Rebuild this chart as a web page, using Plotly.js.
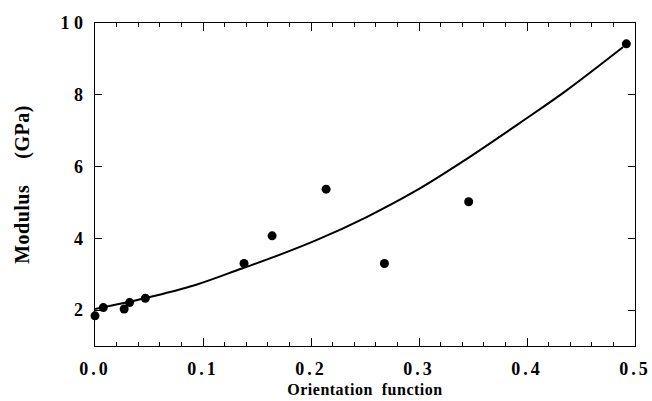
<!DOCTYPE html>
<html>
<head>
<meta charset="utf-8">
<script src="https://cdn.plot.ly/plotly-3.0.1.min.js"></script>
<style>
html,body{margin:0;padding:0;background:#fff;}
#chart{width:652px;height:401px;}
.xtick text {letter-spacing: 3px;}
.ytitle {letter-spacing: 0.5px;}
.xtitle {letter-spacing: 0.5px;}
</style>
</head>
<body>
<div id="chart"></div>
<script>
// Measured points
var orientation = [0.0, 0.0077, 0.027, 0.032, 0.0466, 0.138, 0.164, 0.214, 0.268, 0.346, 0.492];
var modulus = [1.84, 2.07, 2.03, 2.21, 2.33, 3.30, 4.07, 5.37, 3.30, 5.02, 9.42];

// Fitted curve
var fitX = [0.0, 0.046, 0.093, 0.136, 0.162, 0.205, 0.252, 0.298, 0.341, 0.397, 0.437, 0.489];
var fitY = [2.03, 2.33, 2.70, 3.16, 3.44, 3.95, 4.60, 5.34, 6.15, 7.29, 8.13, 9.33];

var xTickVals = [0, 0.1, 0.2, 0.3, 0.4, 0.5];
var xTickText = ["0.0", "0.1", "0.2", "0.3", "0.4", "0.5"];
var yTickVals = [2, 4, 6, 8, 10];
var yTickText = ["2", "4", "6", "8", "1 0"];

var font = "'Liberation Serif', 'Times New Roman', serif";

var traces = [
  {x: fitX, y: fitY, mode: 'lines', line: {color: '#000', width: 2, shape: 'spline', smoothing: 1}, hoverinfo: 'skip', showlegend: false},
  {x: orientation, y: modulus, mode: 'markers', marker: {color: '#000', size: 9}, cliponaxis: false, showlegend: false}
];

var layout = {
  width: 652, height: 401,
  margin: {l: 95, r: 17, t: 23, b: 55},
  paper_bgcolor: '#fff', plot_bgcolor: '#fff',
  showlegend: false,
  font: {family: font, color: '#000'},
  xaxis: {
    range: [0, 0.5], showgrid: false, zeroline: false,
    showline: true, linecolor: '#000', linewidth: 1.3, mirror: 'ticks',
    ticks: 'inside', ticklen: 8, tickcolor: '#000', tickwidth: 1,
    tickvals: xTickVals, ticktext: xTickText,
    tickfont: {family: font, size: 18, color: '#000', weight: 'bold'},
    ticklabelstandoff: 6,
    minor: {dtick: 0.02, ticks: 'inside', ticklen: 4, tickcolor: '#000', tickwidth: 1, showgrid: false},
    title: {text: 'Orientation\u00a0 function', font: {family: font, size: 16, color: '#000', weight: 'bold'}, standoff: 6}
  },
  yaxis: {
    range: [1, 10], showgrid: false, zeroline: false,
    showline: true, linecolor: '#000', linewidth: 1.3, mirror: 'ticks',
    ticks: 'inside', ticklen: 7, tickcolor: '#000', tickwidth: 1,
    tickvals: yTickVals, ticktext: yTickText,
    tickfont: {family: font, size: 18, color: '#000', weight: 'bold'},
    ticklabelstandoff: 7,
    title: {text: 'Modulus\u2003 (GPa)', font: {family: font, size: 20, color: '#000', weight: 'bold'}, standoff: 25}
  }
};

Plotly.newPlot('chart', traces, layout, {staticPlot: true, displayModeBar: false});
</script>
</body>
</html>
